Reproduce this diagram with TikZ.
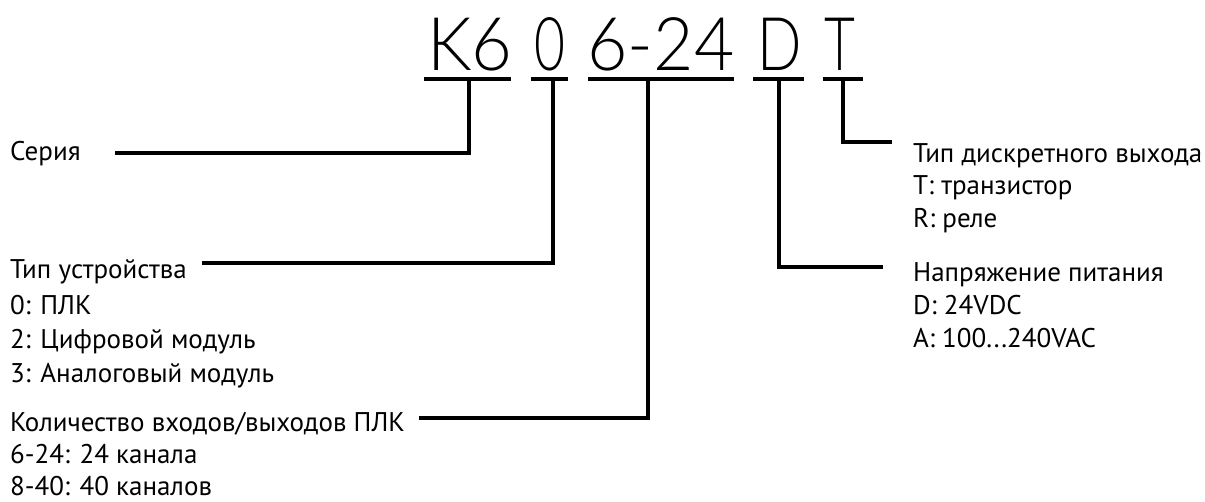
\documentclass[tikz,border=0pt]{standalone}
\usepackage{fontspec}
\setmainfont{PT Sans}
\newfontfamily\codefont{Lato Light}
\newcommand\squeezed[2]{\scalebox{#1}[1]{#2}}
\begin{document}
\begin{tikzpicture}[x=1pt,y=-1pt,
  lbl/.style={inner sep=0pt, anchor=base west, font=\fontsize{27}{32}\selectfont},
  code/.style={inner sep=0pt, anchor=base, font=\codefont\fontsize{74}{80}\selectfont},
  conn/.style={line width=3.2pt, line join=miter, line cap=butt}]
\useasboundingbox (0,0) rectangle (1205,501);
% code parts
\node[code] (cK) at (470,70) {\squeezed{0.95}{K6}};
\node[code] (c0) at (550,70) {\squeezed{0.72}{0}};
\node[code] (cN) at (661,70) {\squeezed{0.94}{6-24}};
\node[code] (cD) at (779.5,70) {\squeezed{0.79}{D}};
\node[code] (cT) at (840,70) {\squeezed{0.72}{T}};
% underline ends and stems
\coordinate (uKl) at (424,79); \coordinate (uKr) at (511,79); \coordinate (sK) at (469,79);
\coordinate (u0l) at (531,79); \coordinate (u0r) at (568,79); \coordinate (s0) at (553,79);
\coordinate (uNl) at (588,79); \coordinate (uNr) at (734,79); \coordinate (sN) at (648,79);
\coordinate (uDl) at (753,79); \coordinate (uDr) at (804,79); \coordinate (sD) at (779,79);
\coordinate (uTl) at (823,79); \coordinate (uTr) at (863,79); \coordinate (sT) at (843,79);
\foreach \a/\b in {uKl/uKr,u0l/u0r,uNl/uNr,uDl/uDr,uTl/uTr} \draw[conn] (\a) -- (\b);
% labels
\node[lbl] (ser) at (10,160) {Серия};
\node[lbl] (dev) at (10,278) {Тип устройства};
\node[lbl] (dev0) at (10,314) {0: ПЛК};
\node[lbl] (dev2) at (10,348) {2: Цифровой модуль};
\node[lbl] (dev3) at (10,382) {3: Аналоговый модуль};
\node[lbl] (io) at (10,431) {Количество входов/выходов ПЛК};
\node[lbl] (io1) at (10,463) {6-24: 24 канала};
\node[lbl] (io2) at (10,495) {8-40: 40 каналов};
\node[lbl] (out) at (913,162) {Тип дискретного выхода};
\node[lbl] (outT) at (913,194) {T: транзистор};
\node[lbl] (outR) at (913,227) {R: реле};
\node[lbl] (pwr) at (913,281) {Напряжение питания};
\node[lbl] (pwrD) at (913,314) {D: 24VDC};
\node[lbl] (pwrA) at (913,347) {A: 100...240VAC};
% connector ends
\coordinate (eSer) at (115,153);
\coordinate (eDev) at (202,263);
\coordinate (eIo) at (419,418);
\coordinate (eOut) at (892,142);
\coordinate (ePwr) at (883,267);
\draw[conn] (sK) |- (eSer);
\draw[conn] (s0) |- (eDev);
\draw[conn] (sN) |- (eIo);
\draw[conn] (sT) |- (eOut);
\draw[conn] (sD) |- (ePwr);
\end{tikzpicture}
\end{document}
